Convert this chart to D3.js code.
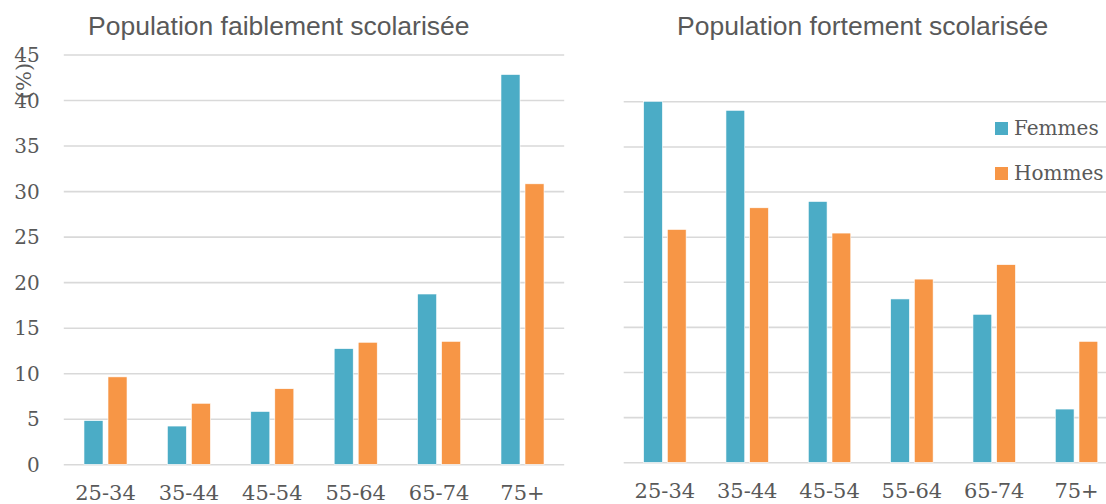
<!DOCTYPE html>
<html>
<head>
<meta charset="utf-8">
<script src="https://cdn.jsdelivr.net/npm/d3@7"></script>
<style>
  body { margin: 0; background: #fff; }
  svg { display: block; }
  .tick text { font-family: "DejaVu Serif", serif; font-size: 20px; fill: #595959; }
  .cat .tick text { font-size: 21px; }
</style>
</head>
<body>
<svg id="chart" width="1106" height="504"></svg>
<script>
// age groups and series
var ages = ["25-34", "35-44", "45-54", "55-64", "65-74", "75+"];
var series = ["Femmes", "Hommes"];
var colors = ["#4bacc6", "#f79646"];

// Population faiblement scolarisée (%)
var lowFemmes = [4.8, 4.2, 5.8, 12.7, 18.7, 42.8];
var lowHommes = [9.6, 6.7, 8.3, 13.4, 13.5, 30.8];

// Population fortement scolarisée (%)
var highFemmes = [40.0, 39.0, 28.9, 18.1, 16.4, 5.9];
var highHommes = [25.8, 28.2, 25.4, 20.3, 21.9, 13.4];

var leftTicks = [0, 5, 10, 15, 20, 25, 30, 35, 40, 45];
var rightTicks = [0, 5, 10, 15, 20, 25, 30, 35, 40];

var svg = d3.select("#chart");
var font = '"DejaVu Serif", serif';
var grey = "#595959";

function panel(cfg) {
  var x = d3.scaleBand().domain(ages).range([cfg.x0, cfg.x1]);
  var y = d3.scaleLinear().domain([0, cfg.max]).range([cfg.y0, cfg.y1]);
  var B = x.bandwidth();
  var sub = d3.scaleBand().domain(series)
    .range([-B * 0.258, B * 0.258])
    .paddingInner(0.208);

  var g = svg.append("g");

  // gridlines
  g.append("g")
    .attr("transform", "translate(" + cfg.x0 + ",0)")
    .call(d3.axisLeft(y).tickValues(cfg.ticks).tickSize(-(cfg.x1 - cfg.x0)).tickFormat(cfg.showLabels ? d3.format("d") : ""))
    .call(function(a) {
      a.select(".domain").remove();
      a.selectAll(".tick line").attr("stroke", "#d9d9d9").attr("stroke-width", 1.6);
      a.selectAll(".tick text").attr("x", -24).attr("dy", "0.36em");
    });

  var rows = ages.map(function(a, i) {
    return { age: a, vals: [cfg.f[i], cfg.h[i]] };
  });

  var grp = g.selectAll("g.cluster")
    .data(rows)
    .join("g")
      .attr("class", "cluster")
      .attr("transform", function(d) { return "translate(" + (x(d.age) + B / 2) + ",0)"; });

  grp.selectAll("rect")
    .data(function(d) { return d.vals.map(function(v, j) { return { s: series[j], v: v, c: colors[j] }; }); })
    .join("rect")
      .attr("x", function(d) { return sub(d.s); })
      .attr("width", sub.bandwidth())
      .attr("y", function(d) { return y(d.v); })
      .attr("height", function(d) { return y(0) - y(d.v); })
      .attr("fill", function(d) { return d.c; })
      .attr("stroke", "#fff")
      .attr("stroke-width", 0.6);

  // category labels
  g.append("g")
    .attr("class", "cat")
    .attr("transform", "translate(0," + cfg.y0 + ")")
    .call(d3.axisBottom(x).tickSize(0).tickPadding(0))
    .call(function(a) {
      a.select(".domain").remove();
      a.selectAll(".tick text").attr("y", cfg.labelY - cfg.y0).attr("dy", 0);
    });

  // title
  svg.append("text")
    .attr("x", cfg.titleX)
    .attr("y", 35)
    .attr("font-family", '"Liberation Sans", Arial, sans-serif')
    .attr("font-size", 26.5)
    .attr("fill", grey)
    .text(cfg.title);
}

panel({
  x0: 63.8, x1: 564.2, y0: 464.3, y1: 54.5, max: 45,
  ticks: leftTicks, showLabels: true, labelY: 500,
  f: lowFemmes, h: lowHommes,
  title: "Population faiblement scolarisée", titleX: 88
});

panel({
  x0: 623.7, x1: 1117.7, y0: 462.3, y1: 101.3, max: 40,
  ticks: rightTicks, showLabels: false, labelY: 498,
  f: highFemmes, h: highHommes,
  title: "Population fortement scolarisée", titleX: 677
});

// axis unit
svg.append("text")
  .attr("transform", "translate(31,81) rotate(-90)")
  .attr("text-anchor", "middle")
  .attr("font-family", font)
  .attr("font-size", 21)
  .attr("fill", grey)
  .text("(%)");

// legend
var leg = svg.append("g").selectAll("g")
  .data(series)
  .join("g")
    .attr("transform", function(d, i) { return "translate(995," + (122 + i * 45) + ")"; });
leg.append("rect")
  .attr("width", 13).attr("height", 13)
  .attr("fill", function(d, i) { return colors[i]; });
leg.append("text")
  .attr("x", 19).attr("y", 13)
  .attr("font-family", font)
  .attr("font-size", 20)
  .attr("fill", grey)
  .text(function(d) { return d; });
</script>
</body>
</html>
